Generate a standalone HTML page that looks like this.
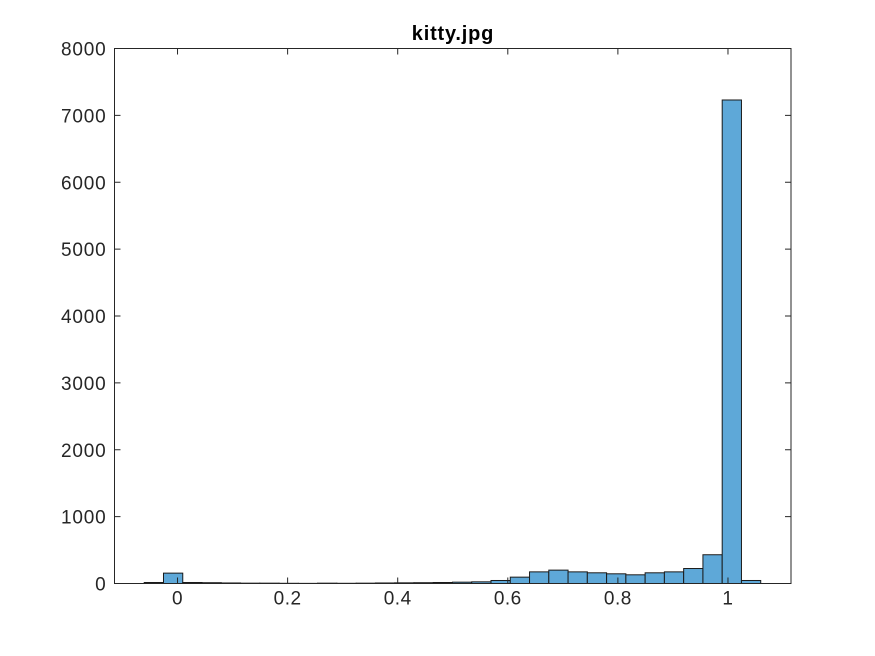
<!DOCTYPE html>
<html><head><meta charset="utf-8"><style>
html,body{margin:0;padding:0;background:#fff;}
svg{display:block;font-family:"Liberation Sans",Arial,sans-serif;}
</style></head><body>
<svg id="chart" width="875" height="656">
<rect width="875" height="656" fill="#fff"/>
<text x="453" y="40" text-anchor="middle" font-size="20" font-weight="bold" letter-spacing="0.8" fill="#000">kitty.jpg</text>
<g id="bars"></g>
<g id="axes"></g>
</svg>
<script>
const binStart = -0.0605;
const binWidth = 0.035;
const counts = [15,155,15,12,8,5,5,3,2,5,3,5,8,10,12,15,20,25,45,95,174,200,174,160,145,130,160,174,224,430,7230,45];
const xTicks = [0,0.2,0.4,0.6,0.8,1];
const xTickLabels = ["0","0.2","0.4","0.6","0.8","1"];
const yTicks = [0,1000,2000,3000,4000,5000,6000,7000,8000];
const yTickLabels = ["0","1000","2000","3000","4000","5000","6000","7000","8000"];

const L=114.5,R=791,T=48.5,B=583.5;
const xMin=-0.1145,xMax=1.1145,yMin=0,yMax=8000;
const xs=v=>L+(v-xMin)/(xMax-xMin)*(R-L);
const ys=v=>B-(v-yMin)/(yMax-yMin)*(B-T);
const NS="http://www.w3.org/2000/svg";
function mk(tag,attrs,parent){const e=document.createElementNS(NS,tag);for(const k in attrs)e.setAttribute(k,attrs[k]);parent.appendChild(e);return e;}
const bars=document.getElementById('bars'),axes=document.getElementById('axes');
counts.forEach((c,i)=>{
  const x0=xs(binStart+i*binWidth),x1=xs(binStart+(i+1)*binWidth);
  const r=mk('rect',{x:x0,y:ys(c),width:x1-x0,height:ys(0)-ys(c),fill:'#5ea8d8',stroke:'#1a1a1a','stroke-width':1},bars);
  
  
});
const box=mk('rect',{x:L,y:T,width:R-L,height:B-T,fill:'none',stroke:'#262626','stroke-width':1},axes);


xTicks.forEach((v,i)=>{
  const x=xs(v);
  mk('line',{x1:x,x2:x,y1:B,y2:B-6,stroke:'#262626'},axes);
  mk('line',{x1:x,x2:x,y1:T,y2:T+6,stroke:'#262626'},axes);
  const t=mk('text',{x:x,y:B+21,'text-anchor':'middle','font-size':19,'letter-spacing':0.5,fill:'#262626'},axes);
  t.textContent=xTickLabels[i];
  
  
});
yTicks.forEach((v,i)=>{
  const y=ys(v);
  mk('line',{x1:L,x2:L+6,y1:y,y2:y,stroke:'#262626'},axes);
  mk('line',{x1:R,x2:R-6,y1:y,y2:y,stroke:'#262626'},axes);
  const t=mk('text',{x:L-8,y:y+7,'text-anchor':'end','font-size':19,'letter-spacing':0.8,fill:'#262626'},axes);
  t.textContent=yTickLabels[i];
  
  
});
</script>
</body></html>
